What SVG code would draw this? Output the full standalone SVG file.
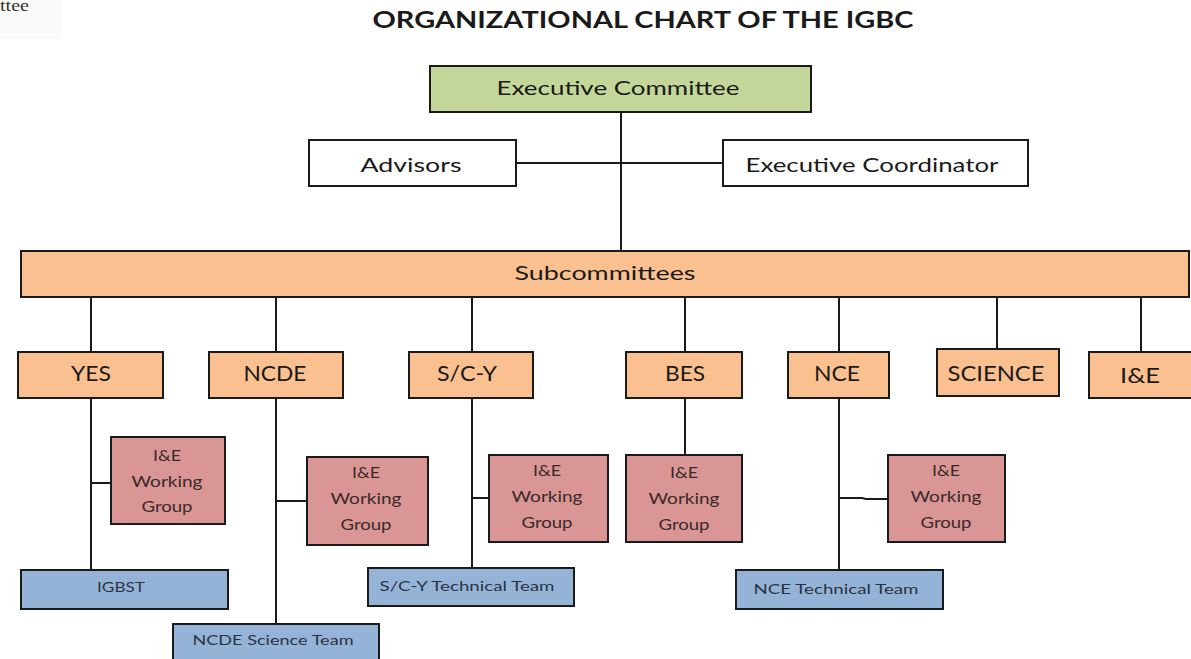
<svg xmlns="http://www.w3.org/2000/svg" width="1191" height="659" viewBox="0 0 1191 659">
<style>
.bx{stroke:#1a1a1a;stroke-width:2}
.g{fill:#c4d79b}
.w{fill:#ffffff}
.o{fill:#fac090}
.r{fill:#d99694}
.b{fill:#95b3d7}
.t{font-family:Lato,"Liberation Sans",sans-serif;text-anchor:middle;fill:#1a1a1a}
.t1{font-size:21px}
.t2{font-size:20px}
.t3{font-size:15px;fill:#3a2a2a}
.t4{font-size:14px;fill:#2a3344}
.ln{stroke:#1a1a1a;stroke-width:2;fill:none}
</style>
<rect width="1191" height="659" fill="#ffffff"/>
<g id="corner">
<rect x="0" y="0" width="61" height="39" fill="#fafafa"/>
<text x="0" y="11" font-family="'Liberation Serif',serif" font-size="16" fill="#333" textLength="29" lengthAdjust="spacingAndGlyphs">ttee</text>
</g>
<text id="title" x="643" y="28" class="t" font-weight="bold" font-size="23" textLength="541" lengthAdjust="spacingAndGlyphs">ORGANIZATIONAL  CHART  OF THE IGBC</text>
<g id="connectors">
<line class="ln" x1="621" y1="112" x2="621" y2="251"/>
<line class="ln" x1="516" y1="163" x2="723" y2="163"/>
<line class="ln" x1="91" y1="297" x2="91" y2="352"/>
<line class="ln" x1="276" y1="297" x2="276" y2="352"/>
<line class="ln" x1="472" y1="297" x2="472" y2="352"/>
<line class="ln" x1="685" y1="297" x2="685" y2="352"/>
<line class="ln" x1="839" y1="297" x2="839" y2="352"/>
<line class="ln" x1="997" y1="297" x2="997" y2="349"/>
<line class="ln" x1="1141" y1="297" x2="1141" y2="352"/>
<line class="ln" x1="91" y1="398" x2="91" y2="570"/>
<line class="ln" x1="91" y1="483" x2="111" y2="483"/>
<line class="ln" x1="276" y1="398" x2="276" y2="624"/>
<line class="ln" x1="276" y1="501" x2="307" y2="501"/>
<line class="ln" x1="472" y1="398" x2="472" y2="568"/>
<line class="ln" x1="472" y1="498" x2="489" y2="498"/>
<line class="ln" x1="685" y1="398" x2="685" y2="455"/>
<line class="ln" x1="839" y1="398" x2="839" y2="570"/>
<polyline class="ln" points="839,498 862,498 866,499 888,499"/>
</g>
<g id="exec-committee"><rect class="bx g" x="430" y="66" width="381" height="46"/><text class="t t2" x="618" y="95" textLength="243" lengthAdjust="spacingAndGlyphs">Executive Committee</text></g>
<g id="advisors"><rect class="bx w" x="309" y="140" width="207" height="46"/><text class="t t2" x="411" y="172" textLength="101" lengthAdjust="spacingAndGlyphs">Advisors</text></g>
<g id="exec-coordinator"><rect class="bx w" x="723" y="140" width="305" height="46"/><text class="t t2" x="872" y="172" textLength="253" lengthAdjust="spacingAndGlyphs">Executive Coordinator</text></g>
<g id="subcommittees"><rect class="bx o" x="21" y="251" width="1168" height="46"/><text class="t t2" x="605" y="280" textLength="181" lengthAdjust="spacingAndGlyphs">Subcommittees</text></g>
<g id="yes"><rect class="bx o" x="18" y="352" width="145" height="46"/><text class="t t1" x="91" y="381" textLength="40" lengthAdjust="spacingAndGlyphs">YES</text></g>
<g id="ncde"><rect class="bx o" x="209" y="352" width="134" height="46"/><text class="t t1" x="275" y="381" textLength="63" lengthAdjust="spacingAndGlyphs">NCDE</text></g>
<g id="scy"><rect class="bx o" x="409" y="352" width="124" height="46"/><text class="t t1" x="467" y="381" textLength="60" lengthAdjust="spacingAndGlyphs">S/C-Y</text></g>
<g id="bes"><rect class="bx o" x="626" y="352" width="116" height="46"/><text class="t t1" x="685" y="381" textLength="40" lengthAdjust="spacingAndGlyphs">BES</text></g>
<g id="nce"><rect class="bx o" x="788" y="352" width="101" height="46"/><text class="t t1" x="837" y="381" textLength="46" lengthAdjust="spacingAndGlyphs">NCE</text></g>
<g id="science"><rect class="bx o" x="937" y="349" width="122" height="47"/><text class="t t1" x="996" y="381" textLength="97" lengthAdjust="spacingAndGlyphs">SCIENCE</text></g>
<g id="ie"><rect class="bx o" x="1089" y="352" width="104" height="46"/><text class="t t1" x="1140" y="383" textLength="40" lengthAdjust="spacingAndGlyphs">I&amp;E</text></g>
<g id="yes-wg"><rect class="bx r" x="111" y="437" width="114" height="87"/>
<text class="t t3" x="167" y="461" textLength="28" lengthAdjust="spacingAndGlyphs">I&amp;E</text>
<text class="t t3" x="167" y="487" textLength="71" lengthAdjust="spacingAndGlyphs">Working</text>
<text class="t t3" x="167" y="512" textLength="51" lengthAdjust="spacingAndGlyphs">Group</text></g>
<g id="ncde-wg"><rect class="bx r" x="307" y="457" width="121" height="88"/>
<text class="t t3" x="366" y="478" textLength="28" lengthAdjust="spacingAndGlyphs">I&amp;E</text>
<text class="t t3" x="366" y="504" textLength="71" lengthAdjust="spacingAndGlyphs">Working</text>
<text class="t t3" x="366" y="530" textLength="51" lengthAdjust="spacingAndGlyphs">Group</text></g>
<g id="scy-wg"><rect class="bx r" x="489" y="455" width="119" height="87"/>
<text class="t t3" x="547" y="476" textLength="28" lengthAdjust="spacingAndGlyphs">I&amp;E</text>
<text class="t t3" x="547" y="502" textLength="71" lengthAdjust="spacingAndGlyphs">Working</text>
<text class="t t3" x="547" y="528" textLength="51" lengthAdjust="spacingAndGlyphs">Group</text></g>
<g id="bes-wg"><rect class="bx r" x="626" y="455" width="116" height="87"/>
<text class="t t3" x="684" y="478" textLength="28" lengthAdjust="spacingAndGlyphs">I&amp;E</text>
<text class="t t3" x="684" y="504" textLength="71" lengthAdjust="spacingAndGlyphs">Working</text>
<text class="t t3" x="684" y="530" textLength="51" lengthAdjust="spacingAndGlyphs">Group</text></g>
<g id="nce-wg"><rect class="bx r" x="888" y="455" width="117" height="87"/>
<text class="t t3" x="946" y="476" textLength="28" lengthAdjust="spacingAndGlyphs">I&amp;E</text>
<text class="t t3" x="946" y="502" textLength="71" lengthAdjust="spacingAndGlyphs">Working</text>
<text class="t t3" x="946" y="528" textLength="51" lengthAdjust="spacingAndGlyphs">Group</text></g>
<g id="igbst"><rect class="bx b" x="21" y="570" width="207" height="39"/><text class="t t4" x="121" y="592" textLength="48" lengthAdjust="spacingAndGlyphs">IGBST</text></g>
<g id="ncde-science-team"><rect class="bx b" x="173" y="624" width="206" height="40"/><text class="t t4" x="273" y="645" textLength="161" lengthAdjust="spacingAndGlyphs">NCDE Science Team</text></g>
<g id="scy-tech-team"><rect class="bx b" x="368" y="568" width="206" height="38"/><text class="t t4" x="467" y="591" textLength="175" lengthAdjust="spacingAndGlyphs">S/C-Y Technical Team</text></g>
<g id="nce-tech-team"><rect class="bx b" x="736" y="570" width="207" height="39"/><text class="t t4" x="836" y="594" textLength="165" lengthAdjust="spacingAndGlyphs">NCE Technical Team</text></g>
</svg>
